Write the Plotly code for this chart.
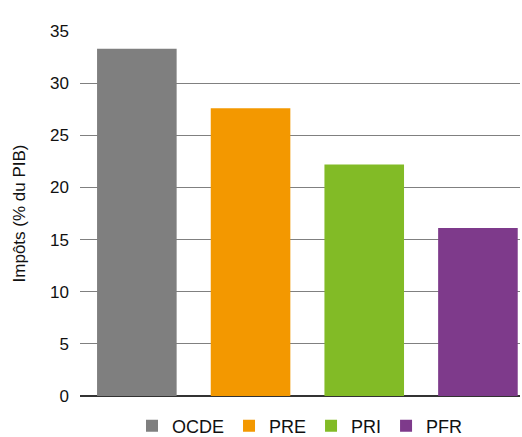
import plotly.graph_objects as go

categories = ["OCDE", "PRE", "PRI", "PFR"]
values = [33.3, 27.6, 22.2, 16.1]
colors = ["#7f7f7f", "#f39800", "#82bb26", "#7e3a8b"]
yticks = [0, 5, 10, 15, 20, 25, 30, 35]

fig = go.Figure()
for c, v, col in zip(categories, values, colors):
    fig.add_trace(go.Bar(x=[c], y=[v], name=c, marker=dict(color=col, line=dict(width=0)), width=0.7))

fig.update_layout(
    width=522, height=437,
    margin=dict(l=80, r=2, t=31, b=41, autoexpand=False),
    barmode="overlay",
    plot_bgcolor="white", paper_bgcolor="white",
    font=dict(family="Liberation Sans, Arial, sans-serif", size=17, color="#111"),
    showlegend=True,
    legend=dict(orientation="h", x=0.5, xanchor="center", y=-0.082, yanchor="middle",
                font=dict(size=18), itemwidth=30, traceorder="normal"),
    xaxis=dict(type="category", range=[-0.5, 3.37], showticklabels=False, showgrid=False,
               zeroline=False, showline=False, ticks=""),
    yaxis=dict(range=[0, 35], tickvals=yticks, showgrid=True, gridcolor="#808080", gridwidth=1.3,
               zeroline=True, zerolinecolor="#333", zerolinewidth=2, showline=False,
               ticks="", ticklabelstandoff=10, tickfont=dict(size=17),
               title=dict(text="Impôts (% du PIB)", standoff=20, font=dict(size=17))),
)

fig.write_html("out.html")
